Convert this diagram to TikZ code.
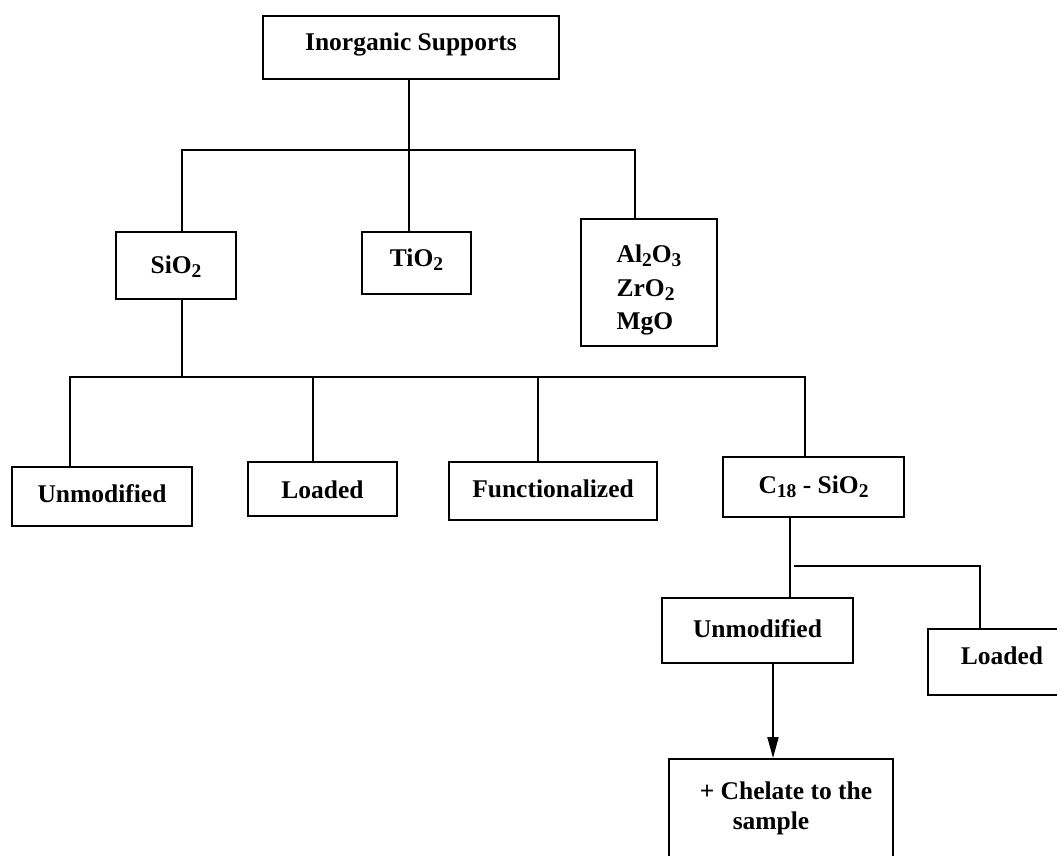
\documentclass[tikz,border=0pt]{standalone}
\usepackage{fontspec}
\setmainfont{Liberation Serif}
\usetikzlibrary{arrows.meta}
\newcommand\mysub[1]{\raisebox{-4pt}{\fontsize{19.5}{19.5}\selectfont #1}}
\begin{document}
\begin{tikzpicture}[x=1pt,y=-1pt,
  boxbase/.style={draw, line width=2pt, inner sep=0pt, font=\bfseries\fontsize{25.5}{30}\selectfont},
  box/.style={boxbase, text height=18pt},
  conn/.style={line width=2pt},
  arr/.style={line width=2pt,-{Triangle[length=21pt,width=11pt]}}
]
\useasboundingbox (0,0) rectangle (1057,856);
\clip (0,0) rectangle (1057,856);

% nodes
\node[box, minimum width=296pt, minimum height=63pt, text depth=11pt] (inorg) at (411,47.5) {Inorganic Supports};
\node[box, minimum width=120pt, minimum height=67pt, text depth=3pt] (sio2) at (176,265.5) {SiO\mysub{2}};
\node[box, minimum width=109pt, minimum height=62pt, text depth=10.6pt] (tio2) at (416.5,263) {TiO\mysub{2}};
\node[boxbase, minimum width=136pt, minimum height=127pt] (alo) at (649,282.5)
  {\fontsize{25.5}{33.5}\selectfont\begin{tabular}{@{}l@{}}\rule{0pt}{38pt}Al\mysub{2}O\mysub{3}\\ ZrO\mysub{2}\\ MgO\end{tabular}};

\node[box, minimum width=180pt, minimum height=59pt, text depth=5.6pt] (unm1) at (102,496.5) {Unmodified};
\node[box, minimum width=149pt, minimum height=54pt, text depth=0pt] (load1) at (322.5,489) {Loaded};
\node[box, minimum width=208pt, minimum height=58pt, text depth=6pt] (func) at (553,491) {Functionalized};
\node[box, minimum width=181pt, minimum height=60pt, text depth=6pt] (c18) at (813.5,487) {C\mysub{18} - SiO\mysub{2}};

\node[box, minimum width=191pt, minimum height=65pt, text depth=3.6pt] (unm2) at (757.5,630.5) {Unmodified};
\node[box, minimum width=148pt, minimum height=66pt, text depth=14pt, anchor=north west] (load2) at (927,628) {Loaded};
\node[boxbase, minimum width=224pt, minimum height=98pt] (chel) at (781,808)
  {\fontsize{25.5}{30}\selectfont\begin{tabular}{@{\hspace{10pt}}l@{}}+ Chelate to the\\ \hspace*{33pt}sample\end{tabular}};

% junctions
\coordinate (b1) at (409,150);
\coordinate (b2) at (182,377);
\coordinate (b3) at (790,566);

% top level
\draw[conn] ([xshift=-2pt]inorg.south) -- (b1);
\draw[conn] ([xshift=6pt]sio2.north) |- (b1) -| ([xshift=-14pt]alo.north);
\draw[conn] (b1) -- (tio2.north -| b1);

% SiO2 level
\draw[conn] ([xshift=6pt]sio2.south) -- (b2);
\draw[conn] ([xshift=-32pt]unm1.north) |- (b2) -| ([xshift=-8.5pt]c18.north);
\coordinate (s1) at ([xshift=-9.5pt]load1.north);
\draw[conn] (s1) -- (s1 |- b2);
\coordinate (s2) at ([xshift=-15pt]func.north);
\draw[conn] (s2) -- (s2 |- b2);

% C18 level
\draw[conn] ([xshift=-23.5pt]c18.south) -- ([xshift=32.5pt]unm2.north);
\draw[conn] ([xshift=4pt]b3) -| ([xshift=-22pt]load2.north);

% arrow
\coordinate (a1) at ([xshift=15.5pt]unm2.south);
\draw[arr] (a1) -- (a1 |- chel.north);
\end{tikzpicture}
\end{document}
